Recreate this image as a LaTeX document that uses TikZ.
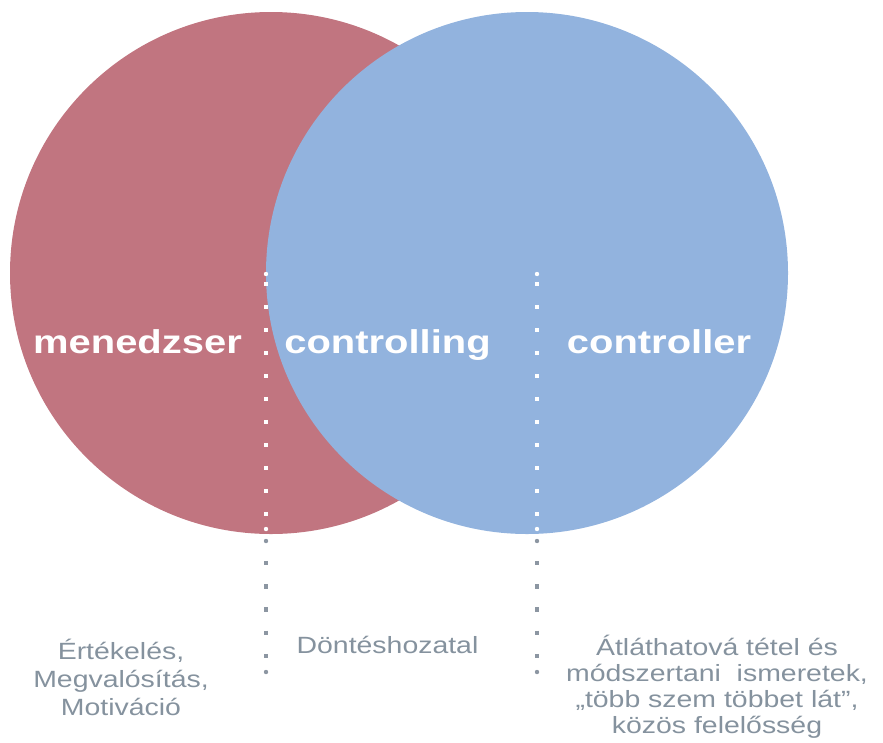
\documentclass[tikz,border=0pt]{standalone}
\usepackage{fontspec}
\newfontfamily\venfont[FakeStretch=1.21]{Liberation Sans}
\definecolor{mgrred}{RGB}{193,117,128}
\definecolor{ctrblue}{RGB}{146,179,222}
\definecolor{notegray}{RGB}{133,146,158}
\definecolor{dotgray}{RGB}{140,150,162}
\tikzset{
  setlabel/.style={text=white, inner sep=0pt, anchor=base,
    font=\venfont\bfseries\fontsize{33}{38}\selectfont},
  % anchor=base of a multi-line note sits on its last line
  note/.style={text=notegray, inner sep=0pt, anchor=base, align=center,
    font=\venfont\fontsize{23.5}{#1}\selectfont},
  note/.default=27,
  dotline/.style={line width=4.5pt},
}
\begin{document}
\begin{tikzpicture}[x=1pt,y=-1pt]
\useasboundingbox (0,0) rectangle (883,742);

% the two overlapping sets
\fill[mgrred]  (271,273) circle[radius=261];
\fill[ctrblue] (527,273) circle[radius=261];

% dividing dotted lines
\foreach \x/\nm in {266/l,537/r}{
  \coordinate (\nm top)  at (\x,281.75);
  \coordinate (\nm mid)  at (\x,516.25);
  \coordinate (\nm low)  at (\x,560.75);
  \coordinate (\nm end)  at (\x,658.25);
  \draw[dotline, white, dash pattern=on 4.5pt off 18.5pt] (\nm top) -- (\nm mid);
  \fill[white] (\x,274) circle[radius=2.2] (\x,529) circle[radius=2.2];
  \draw[dotline, dotgray, dash pattern=on 4.5pt off 18.75pt] (\nm low) -- (\nm end);
  \fill[dotgray] (\x,541) circle[radius=2.2] (\x,672) circle[radius=2.2];
}

% set labels
\node[setlabel] (mgr) at (137.5,353) {menedzser};
\node[setlabel] (cng) at (387.5,353) {controlling};
\node[setlabel] (ctr) at (659,353) {controller};

% notes under the sets
\node[note=28] (mgrnote) at (121,715) {Értékelés,\\Megvalósítás,\\Motiváció};
\node[note] (cngnote) at (387.5,653) {Döntéshozatal};
\node[note=26] (ctrnote) at (717,733) {Átláthatová tétel és\\módszertani\ \ ismeretek,\\„több szem többet lát”,\\közös felelősség};
\end{tikzpicture}
\end{document}
